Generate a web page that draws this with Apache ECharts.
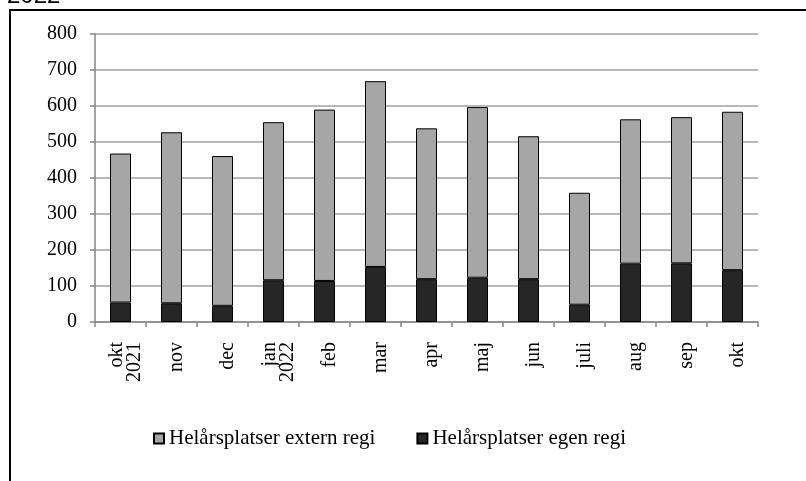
<!DOCTYPE html>
<html>
<head>
<meta charset="utf-8">
<script src="https://cdn.jsdelivr.net/npm/echarts@6/dist/echarts.min.js"></script>
<style>
html,body{margin:0;padding:0;background:#fff;}
#c{width:806px;height:481px;}
</style>
</head>
<body>
<div id="c"></div>
<script>
const categories = ['okt\n2021','nov','dec','jan\n2022','feb','mar','apr','maj','jun','juli','aug','sep','okt'];
const egenRegi = [54, 52, 45, 116, 114, 153, 119, 123, 119, 48, 162, 163, 144];
const externRegi = [414, 475, 416, 439, 476, 516, 419, 474, 397, 311, 401, 406, 440];
const yTicks = [0, 100, 200, 300, 400, 500, 600, 700, 800];
const nameExtern = 'Helårsplatser extern regi';
const nameEgen = 'Helårsplatser egen regi';

const chart = echarts.init(document.getElementById('c'));
const serif = 'Liberation Serif';
chart.setOption({
  animation: false,
  backgroundColor: '#fff',
  graphic: [
    {type: 'rect', shape: {x: 10, y: 10, width: 1000, height: 700}, style: {fill: 'none', stroke: '#000', lineWidth: 2}, z: 0},
    {type: 'text', x: 7, y: -4, style: {text: '2022', font: '24px "Liberation Sans"', fill: '#000', verticalAlign: 'middle'}}
  ],
  grid: {left: 95, right: 48, top: 34, bottom: 159, containLabel: false},
  legend: {
    data: [nameExtern, nameEgen],
    left: 148, top: 423,
    itemWidth: 10, itemHeight: 10, itemGap: 41,
    icon: 'rect',
    textStyle: {fontFamily: serif, fontSize: 21, color: '#000'}
  },
  xAxis: {
    type: 'category',
    data: categories,
    axisLine: {lineStyle: {color: '#868686', width: 1.5}},
    axisTick: {show: true, length: 5, inside: false, lineStyle: {color: '#868686', width: 1.5}},
    axisLabel: {
      rotate: 90, margin: 20, fontFamily: serif, fontSize: 20, color: '#000', lineHeight: 18,
      formatter: function (v) {
        return '{s| }\n' + v.split('\n').map(function (s) { return '{q|' + s + '}'; }).join('\n');
      },
      rich: {
        s: {fontSize: 1, lineHeight: 10},
        q: {fontFamily: serif, fontSize: 20, color: '#000', lineHeight: 18}
      }
    }
  },
  yAxis: {
    type: 'value',
    min: yTicks[0], max: yTicks[yTicks.length - 1], interval: 100,
    axisLine: {show: true, lineStyle: {color: '#868686', width: 1.5}},
    axisTick: {show: true, length: 5, lineStyle: {color: '#868686', width: 1.5}},
    splitLine: {show: true, lineStyle: {color: '#a0a0a0', width: 1.5}},
    axisLabel: {margin: 18, fontFamily: serif, fontSize: 20, color: '#000'}
  },
  series: [
    {
      name: nameEgen, type: 'bar', stack: 'total', data: egenRegi, barWidth: 21,
      itemStyle: {color: '#262626', borderColor: '#000', borderWidth: 1}
    },
    {
      name: nameExtern, type: 'bar', stack: 'total', data: externRegi, barWidth: 21,
      itemStyle: {color: '#a6a6a6', borderColor: '#000', borderWidth: 1}
    }
  ]
});
</script>
</body>
</html>
